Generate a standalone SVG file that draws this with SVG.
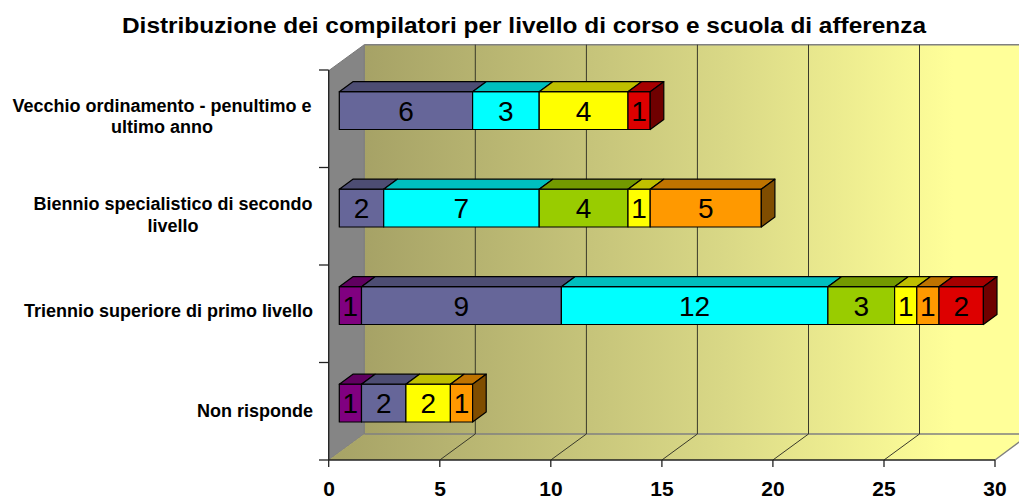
<svg xmlns="http://www.w3.org/2000/svg" width="1019" height="500" viewBox="0 0 1019 500">
<defs>
<linearGradient id="wallGrad" gradientUnits="userSpaceOnUse" x1="364" y1="0" x2="1019" y2="0">
<stop offset="0" stop-color="#a6a266"/>
<stop offset="0.55" stop-color="#d9d886"/>
<stop offset="0.9" stop-color="#ffff99"/>
<stop offset="1" stop-color="#ffff99"/>
</linearGradient>
<linearGradient id="floorGrad" gradientUnits="userSpaceOnUse" x1="329" y1="0" x2="1019" y2="0">
<stop offset="0" stop-color="#a6a266"/>
<stop offset="0.55" stop-color="#d9d886"/>
<stop offset="0.9" stop-color="#ffff99"/>
<stop offset="1" stop-color="#ffff99"/>
</linearGradient>
</defs>
<style>
.title{font-family:"Liberation Sans",Arial,sans-serif;font-weight:bold;font-size:22px;fill:#000}
.cat{font-family:"Liberation Sans",Arial,sans-serif;font-weight:bold;font-size:18px;fill:#000}
.ax{font-family:"Liberation Sans",Arial,sans-serif;font-weight:bold;font-size:21px;fill:#000;text-anchor:middle}
.val{font-family:"Liberation Sans",Arial,sans-serif;font-size:28px;fill:#000;text-anchor:middle}
.bar{stroke:#000;stroke-width:1.2;stroke-linejoin:round}
.grid{stroke:#3a3a2a;stroke-width:1;fill:none}
.edge{stroke:#808080;stroke-width:1.5;fill:none}
.axis{stroke:#222;stroke-width:1.3;fill:none}
.pu{fill:#800080}.puT{fill:#600060}
.bl{fill:#666699}.blT{fill:#4d4d73}
.cy{fill:#00ffff}.cyT{fill:#00bfbf}
.gr{fill:#99cc00}.grT{fill:#739900}
.ye{fill:#ffff00}.yeT{fill:#bfbf00}
.or{fill:#ff9900}.orT{fill:#bf7300}.orS{fill:#804d00}
.re{fill:#dd0000}.reT{fill:#a60000}.reS{fill:#6f0000}
</style>

<rect x="0" y="0" width="1019" height="500" fill="#ffffff"/>

<g id="title">
<text class="title" x="524" y="33" text-anchor="middle" textLength="804" lengthAdjust="spacingAndGlyphs">Distribuzione dei compilatori per livello di corso e scuola di afferenza</text>
</g>

<g id="plot-area">
<rect x="364.3" y="44.7" width="670" height="389.3" fill="url(#wallGrad)"/>
<polygon points="328.7,70.7 364.3,44.7 364.3,434 328.7,460" fill="#858585" stroke="#777" stroke-width="1"/>
<polygon points="328.7,460 364.3,434 1030,434 995,460" fill="url(#floorGrad)"/>
<line class="edge" x1="364.3" y1="44.7" x2="1019" y2="44.7"/>
<line class="edge" x1="364.3" y1="434" x2="1019" y2="434"/>
<line class="edge" x1="995" y1="460" x2="1030" y2="434"/>
</g>

<g id="gridlines">
<line class="grid" x1="475.3" y1="44.7" x2="475.3" y2="434"/>
<line class="grid" x1="586.4" y1="44.7" x2="586.4" y2="434"/>
<line class="grid" x1="697.4" y1="44.7" x2="697.4" y2="434"/>
<line class="grid" x1="808.5" y1="44.7" x2="808.5" y2="434"/>
<line class="grid" x1="919.5" y1="44.7" x2="919.5" y2="434"/>
<line class="grid" x1="475.3" y1="434" x2="439.8" y2="460"/>
<line class="grid" x1="586.4" y1="434" x2="550.8" y2="460"/>
<line class="grid" x1="697.4" y1="434" x2="661.9" y2="460"/>
<line class="grid" x1="808.5" y1="434" x2="772.9" y2="460"/>
<line class="grid" x1="919.5" y1="434" x2="884" y2="460"/>
</g>

<g id="axes">
<line class="axis" x1="328.7" y1="70" x2="328.7" y2="460"/>
<line class="axis" x1="328.7" y1="460" x2="995" y2="460"/>
<line class="axis" x1="319" y1="70" x2="328.7" y2="70"/>
<line class="axis" x1="319" y1="167.5" x2="328.7" y2="167.5"/>
<line class="axis" x1="319" y1="265" x2="328.7" y2="265"/>
<line class="axis" x1="319" y1="362.5" x2="328.7" y2="362.5"/>
<line class="axis" x1="319" y1="460" x2="328.7" y2="460"/>
<line class="axis" x1="328.7" y1="460" x2="328.7" y2="467"/>
<line class="axis" x1="439.8" y1="460" x2="439.8" y2="467"/>
<line class="axis" x1="550.8" y1="460" x2="550.8" y2="467"/>
<line class="axis" x1="661.9" y1="460" x2="661.9" y2="467"/>
<line class="axis" x1="772.9" y1="460" x2="772.9" y2="467"/>
<line class="axis" x1="884" y1="460" x2="884" y2="467"/>
<line class="axis" x1="995" y1="460" x2="995" y2="467"/>
<text class="ax" x="329" y="496">0</text>
<text class="ax" x="440" y="496">5</text>
<text class="ax" x="551" y="496">10</text>
<text class="ax" x="662" y="496">15</text>
<text class="ax" x="773" y="496">20</text>
<text class="ax" x="884" y="496">25</text>
<text class="ax" x="995" y="496">30</text>
</g>

<g id="category-labels">
<text class="cat" x="162" y="111.7" text-anchor="middle">Vecchio ordinamento - penultimo e</text>
<text class="cat" x="162" y="133.3" text-anchor="middle">ultimo anno</text>
<text class="cat" x="173" y="210" text-anchor="middle">Biennio specialistico di secondo</text>
<text class="cat" x="173" y="231.7" text-anchor="middle">livello</text>
<text class="cat" x="313" y="317.3" text-anchor="end">Triennio superiore di primo livello</text>
<text class="cat" x="313" y="417.3" text-anchor="end">Non risponde</text>
</g>

<g id="bar-vecchio">
<rect class="bar bl" x="339.3" y="91.7" width="133.3" height="37.8"/>
<polygon class="bar blT" points="339.3,91.7 352.9,81.7 486.2,81.7 472.6,91.7"/>
<rect class="bar cy" x="472.6" y="91.7" width="66.6" height="37.8"/>
<polygon class="bar cyT" points="472.6,91.7 486.2,81.7 552.8,81.7 539.2,91.7"/>
<rect class="bar ye" x="539.2" y="91.7" width="88.8" height="37.8"/>
<polygon class="bar yeT" points="539.2,91.7 552.8,81.7 641.6,81.7 628,91.7"/>
<rect class="bar re" x="628" y="91.7" width="22.2" height="37.8"/>
<polygon class="bar reT" points="628,91.7 641.6,81.7 663.8,81.7 650.2,91.7"/>
<polygon class="bar reS" points="650.2,91.7 663.8,81.7 663.8,119.5 650.2,129.5"/>
<text class="val" x="406" y="120.6">6</text>
<text class="val" x="505.9" y="120.6">3</text>
<text class="val" x="583.6" y="120.6">4</text>
<text class="val" x="639.1" y="120.6">1</text>
</g>

<g id="bar-biennio">
<rect class="bar bl" x="339.3" y="189.2" width="44.4" height="37.8"/>
<polygon class="bar blT" points="339.3,189.2 352.9,179.2 397.3,179.2 383.7,189.2"/>
<rect class="bar cy" x="383.7" y="189.2" width="155.5" height="37.8"/>
<polygon class="bar cyT" points="383.7,189.2 397.3,179.2 552.8,179.2 539.2,189.2"/>
<rect class="bar gr" x="539.2" y="189.2" width="88.8" height="37.8"/>
<polygon class="bar grT" points="539.2,189.2 552.8,179.2 641.6,179.2 628,189.2"/>
<rect class="bar ye" x="628" y="189.2" width="22.2" height="37.8"/>
<polygon class="bar yeT" points="628,189.2 641.6,179.2 663.8,179.2 650.2,189.2"/>
<rect class="bar or" x="650.2" y="189.2" width="111.1" height="37.8"/>
<polygon class="bar orT" points="650.2,189.2 663.8,179.2 774.9,179.2 761.3,189.2"/>
<polygon class="bar orS" points="761.3,189.2 774.9,179.2 774.9,217 761.3,227"/>
<text class="val" x="361.5" y="218.1">2</text>
<text class="val" x="461.4" y="218.1">7</text>
<text class="val" x="583.6" y="218.1">4</text>
<text class="val" x="639.1" y="218.1">1</text>
<text class="val" x="705.8" y="218.1">5</text>
</g>

<g id="bar-triennio">
<rect class="bar pu" x="339.3" y="286.7" width="22.2" height="37.8"/>
<polygon class="bar puT" points="339.3,286.7 352.9,276.7 375.1,276.7 361.5,286.7"/>
<rect class="bar bl" x="361.5" y="286.7" width="199.9" height="37.8"/>
<polygon class="bar blT" points="361.5,286.7 375.1,276.7 575,276.7 561.4,286.7"/>
<rect class="bar cy" x="561.4" y="286.7" width="266.5" height="37.8"/>
<polygon class="bar cyT" points="561.4,286.7 575,276.7 841.5,276.7 827.9,286.7"/>
<rect class="bar gr" x="827.9" y="286.7" width="66.7" height="37.8"/>
<polygon class="bar grT" points="827.9,286.7 841.5,276.7 908.2,276.7 894.6,286.7"/>
<rect class="bar ye" x="894.6" y="286.7" width="22.2" height="37.8"/>
<polygon class="bar yeT" points="894.6,286.7 908.2,276.7 930.4,276.7 916.8,286.7"/>
<rect class="bar or" x="916.8" y="286.7" width="22.2" height="37.8"/>
<polygon class="bar orT" points="916.8,286.7 930.4,276.7 952.6,276.7 939,286.7"/>
<rect class="bar re" x="939" y="286.7" width="44.4" height="37.8"/>
<polygon class="bar reT" points="939,286.7 952.6,276.7 997,276.7 983.4,286.7"/>
<polygon class="bar reS" points="983.4,286.7 997,276.7 997,314.5 983.4,324.5"/>
<text class="val" x="350.4" y="315.6">1</text>
<text class="val" x="461.4" y="315.6">9</text>
<text class="val" x="694.6" y="315.6">12</text>
<text class="val" x="861.2" y="315.6">3</text>
<text class="val" x="905.7" y="315.6">1</text>
<text class="val" x="927.9" y="315.6">1</text>
<text class="val" x="961.2" y="315.6">2</text>
</g>

<g id="bar-non-risponde">
<rect class="bar pu" x="339.3" y="384.2" width="22.2" height="37.8"/>
<polygon class="bar puT" points="339.3,384.2 352.9,374.2 375.1,374.2 361.5,384.2"/>
<rect class="bar bl" x="361.5" y="384.2" width="44.4" height="37.8"/>
<polygon class="bar blT" points="361.5,384.2 375.1,374.2 419.5,374.2 405.9,384.2"/>
<rect class="bar ye" x="405.9" y="384.2" width="44.5" height="37.8"/>
<polygon class="bar yeT" points="405.9,384.2 419.5,374.2 464,374.2 450.4,384.2"/>
<rect class="bar or" x="450.4" y="384.2" width="22.2" height="37.8"/>
<polygon class="bar orT" points="450.4,384.2 464,374.2 486.2,374.2 472.6,384.2"/>
<polygon class="bar orS" points="472.6,384.2 486.2,374.2 486.2,412 472.6,422"/>
<text class="val" x="350.4" y="413.1">1</text>
<text class="val" x="383.7" y="413.1">2</text>
<text class="val" x="428.2" y="413.1">2</text>
<text class="val" x="461.5" y="413.1">1</text>
</g>
</svg>
